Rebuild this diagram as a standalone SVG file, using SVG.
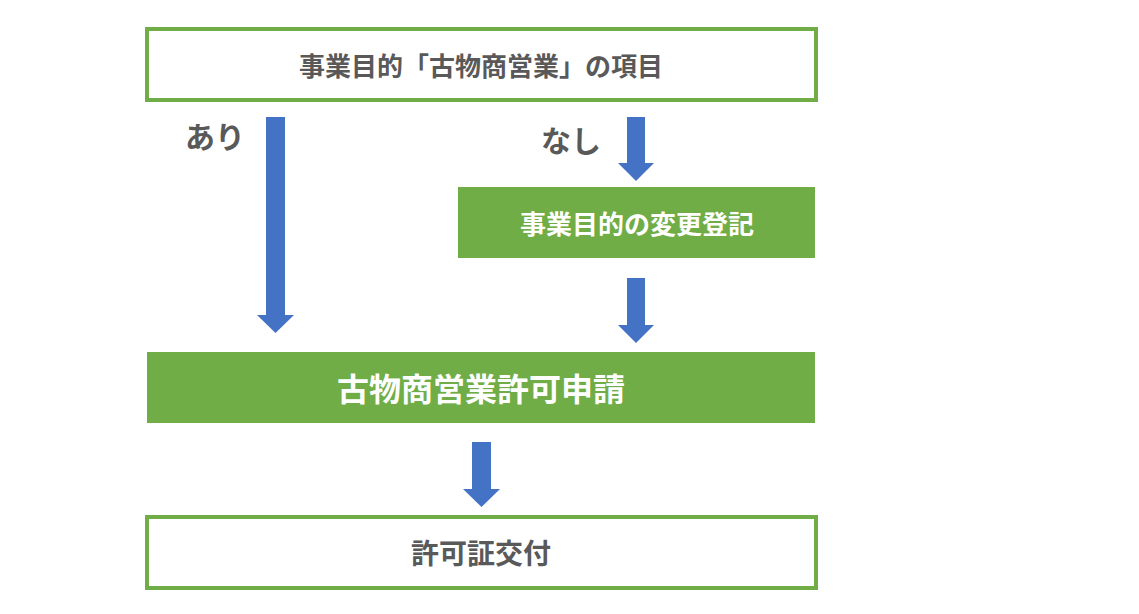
<svg xmlns="http://www.w3.org/2000/svg" width="1139" height="614" viewBox="0 0 1139 614">
<style>
.ob{fill:#fff;stroke:#70AD47;stroke-width:4}
.fb{fill:#70AD47}
.t{font-family:"Noto Sans CJK JP","Noto Sans",sans-serif;font-weight:bold;text-anchor:middle;dominant-baseline:central}
.g{fill:#595959}
.w{fill:#fff}
.a{fill:#4472C4}
</style>
<rect width="1139" height="614" fill="#fff"/>
<g id="top"><rect class="ob" x="147" y="29" width="669" height="71"/><text class="t g" x="481" y="64" font-size="26">事業目的「古物商営業」の項目</text></g>
<g id="change"><rect class="fb" x="458" y="187" width="357" height="71"/><text class="t w" x="637" y="222" font-size="26">事業目的の変更登記</text></g>
<g id="apply"><rect class="fb" x="147" y="352" width="668" height="71"/><text class="t w" x="481" y="387" font-size="32">古物商営業許可申請</text></g>
<g id="issue"><rect class="ob" x="147" y="517" width="669" height="71"/><text class="t g" x="481" y="552" font-size="28">許可証交付</text></g>
<g id="labels"><text class="t g" x="215" y="135" font-size="30">あり</text><text class="t g" x="571" y="139" font-size="30">なし</text></g>
<g id="connectors">
<polygon class="a" points="266,117 285,117 285,315 294,315 275.5,333 257,315 266,315"/>
<polygon class="a" points="627,117 645,117 645,163 654,163 636,181 618,163 627,163"/>
<polygon class="a" points="627,278 645,278 645,325 654,325 636,343 618,325 627,325"/>
<polygon class="a" points="472,442 491,442 491,489 500,489 481.5,507 463,489 472,489"/>
</g>
</svg>
